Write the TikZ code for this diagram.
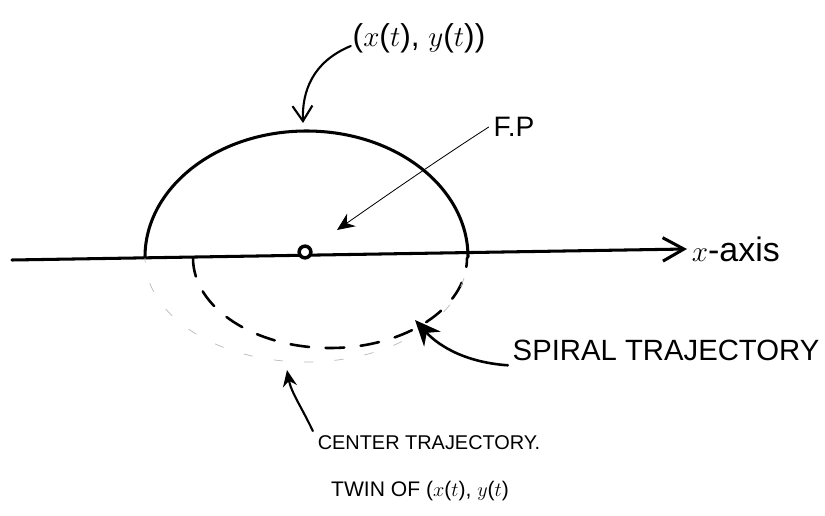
\documentclass[tikz,border=0pt]{standalone}
\usepackage{fontspec}
\setmainfont{Liberation Sans}
\usetikzlibrary{arrows.meta,positioning}
\begin{document}
\begin{tikzpicture}[x=0.03cm, y=-0.03cm,
    hand/.style={line width=2.2pt, line cap=round},
    lbl/.style={inner sep=4pt, font=\fontsize{20}{24}\selectfont}]
    \useasboundingbox (0,0) rectangle (825,516);
    % axis and fixed point
    \coordinate (axstart) at (12,260);
    \coordinate (axend) at (687,249);
    \draw[hand, line width=2.6pt, -{Straight Barb[length=18pt, width=20pt]}] (axstart) -- (axend);
    \node[lbl, anchor=west, font=\fontsize{29}{32}\selectfont] (xlbl) at (axend) {$x$-axis};
    \node[circle, draw, line width=3pt, fill=white, inner sep=0pt, minimum size=10pt] (fp) at (305,252) {};
    % trajectories
    \draw[hand, line width=2.6pt] (145,257) arc[start angle=180, end angle=360, x radius=161.5, y radius=126];
    \draw[hand, dash pattern=on 16pt off 14pt] (193,258) arc[start angle=180, end angle=0, x radius=137, y radius=90];
    \draw[gray!55, line width=0.6pt, dash pattern=on 8pt off 18pt, dash phase=4pt] (145,258) arc[start angle=180, end angle=0, x radius=161, y radius=104];
    \coordinate (toptip) at (303,123);
    \coordinate (fptip) at (337,230);
    \coordinate (spiraltip) at (415,320);
    \coordinate (centertip) at (287,370);
    % labels
    \node[lbl, font=\fontsize{27}{30}\selectfont] (xy) at (419,38) {($x$($t$), $y$($t$))};
    \node[lbl, font=\fontsize{24}{28}\selectfont] (fplbl) at (514,127) {F.P};
    \node[lbl, font=\fontsize{25}{28}\selectfont] (spiral) at (666,350) {SPIRAL TRAJECTORY};
    \node[lbl, font=\fontsize{17}{20}\selectfont] (center) at (429,443) {CENTER TRAJECTORY.};
    \node[lbl, font=\fontsize{18}{21}\selectfont] (twin) at (420,491) {TWIN OF ($x$($t$), $y$($t$)};
    % pointers
    \draw[hand, line width=1.8pt, -{Straight Barb[length=13pt, width=17pt]}] (xy.west) ++(3,8) .. controls (312,62) and (302,92) .. (toptip);
    \draw[line width=0.7pt, -{Stealth[length=15pt, width=13pt]}] (fplbl.west) .. controls (430,165) and (380,200) .. (fptip);
    \draw[hand, -{Stealth[length=22pt, width=19pt]}] (spiral.south west) .. controls (460,362) and (435,342) .. (spiraltip);
    \draw[hand, line width=1.8pt, -{Stealth[length=14pt, width=12pt]}] (center.north west) .. controls (302,408) and (291,392) .. (centertip);
\end{tikzpicture}
\end{document}
